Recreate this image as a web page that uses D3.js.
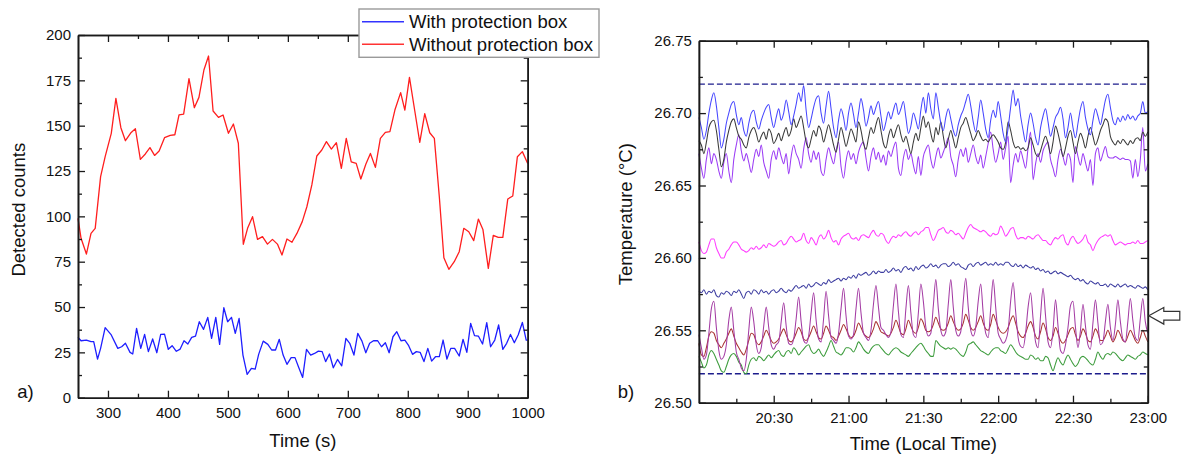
<!DOCTYPE html>
<html>
<head>
<meta charset="utf-8">
<script src="https://cdn.jsdelivr.net/npm/d3@7"></script>
<style>
  html, body { margin: 0; padding: 0; background: #fff; }
  svg { display: block; font-family: "Liberation Sans", Arial, sans-serif; }
</style>
</head>
<body>
<svg id="fig" width="1181" height="454"></svg>
<script>
// ---------------- Panel a) : detected counts vs time ----------------
const seriesNamesA = ["With protection box", "Without protection box"];

// time (s) and counts, without protection box
const timeWithout = [250.0,255.1,264.0,271.7,278.7,287.7,295.3,305.5,313.2,321.5,329.1,338.7,345.7,354.0,362.3,370.0,377.7,385.3,394.3,403.8,411.5,418.5,426.2,435.1,444.0,451.7,460.0,467.7,475.3,484.3,491.9,500.9,509.2,517.4,525.7,532.8,541.1,549.4,557.7,566.0,574.3,582.6,590.2,598.5,606.8,615.1,624.0,631.7,640.0,648.3,656.6,664.3,672.6,680.9,689.2,697.4,705.7,714.0,721.7,730.0,737.7,746.0,754.3,762.6,770.2,778.5,788.1,795.1,802.8,811.7,820.0,828.3,836.6,844.3,852.6,860.2,868.5,877.5,885.8,893.4,901.7,910.0,917.7,925.3,934.3,942.6,950.9,958.5,966.8,975.1,982.8,991.1,1000.0];
const countsWithout = [98.9,87.9,79.2,90.6,93.4,121.9,132.9,145.8,165.1,148.9,141.7,146.3,148.3,131.4,134.4,137.9,133.6,136.0,143.4,144.7,145.0,155.9,156.4,175.9,159.9,165.6,180.7,188.4,158.1,154.6,155.9,145.8,150.9,140.3,84.6,93.4,99.8,87.3,88.8,84.7,87.3,84.7,78.7,87.5,85.7,90.6,97.1,105.3,117.3,133.3,136.6,141.2,137.1,140.6,126.5,143.0,130.1,129.2,120.6,128.7,134.7,127.0,143.0,146.3,146.7,158.6,168.2,158.6,176.6,158.1,140.8,156.6,146.1,143.0,110.8,77.2,70.8,75.0,80.5,93.4,91.5,86.6,98.5,92.8,71.3,89.5,88.4,88.4,109.6,111.2,132.9,135.7,129.2];

// time (s) and counts, with protection box
const timeWith = [250.0,255.1,264.0,271.7,276.2,282.6,287.7,295.3,305.5,316.4,322.8,329.1,336.8,341.3,347.7,354.7,361.1,367.4,374.5,381.5,387.9,394.3,400.6,407.0,414.0,420.4,426.8,433.2,439.6,446.0,452.3,459.4,466.4,472.8,479.8,486.2,493.2,499.6,506.0,512.3,518.7,525.1,532.1,539.2,545.5,551.3,558.9,566.6,573.0,579.4,585.7,592.1,598.5,605.5,611.9,618.3,624.7,631.1,638.1,644.5,650.9,657.2,663.0,669.4,675.8,682.8,689.8,696.8,703.2,710.2,716.6,723.6,730.0,736.4,742.8,749.8,756.2,762.6,768.9,775.3,781.7,788.7,795.1,801.5,807.9,814.3,820.6,827.0,833.4,839.8,846.2,852.6,858.9,865.3,871.7,878.1,885.8,892.1,898.5,904.9,911.3,917.7,924.7,931.7,938.1,945.1,951.5,958.5,964.9,971.3,977.7,984.1,991.1,997.5,1000.0];
const countsWith = [33.3,31.4,31.8,30.9,30.9,21.3,27.2,38.6,34.6,27.2,28.1,30.0,25.0,24.1,38.2,27.2,34.9,25.4,32.4,24.8,34.9,35.1,26.7,28.7,25.6,26.8,31.4,29.6,33.3,34.0,41.9,37.7,44.3,32.7,44.3,29.4,49.6,41.9,44.3,35.5,43.7,23.5,12.9,16.2,15.8,23.9,31.2,29.4,26.3,26.3,32.2,23.5,18.4,22.1,22.1,16.5,11.2,26.7,23.5,24.4,25.7,25.4,19.9,24.1,16.5,21.1,17.6,32.7,30.0,23.5,35.5,31.2,24.8,30.0,31.4,31.4,28.1,30.3,24.8,33.6,36.4,31.4,31.8,28.7,23.9,25.4,25.0,19.9,27.2,20.2,22.6,22.6,31.8,21.3,27.2,27.2,23.0,32.2,25.0,41.0,34.2,34.0,29.6,41.4,28.1,31.8,40.1,26.7,30.0,34.9,30.3,34.6,41.5,31.8,31.8];

const xTicksA = [300, 400, 500, 600, 700, 800, 900, 1000];
const yTicksA = [0, 25, 50, 75, 100, 125, 150, 175, 200];

// ---------------- Panel b) : temperatures, 20:00 - 23:00 ----------------
const clockStartMin = 20 * 60;   // 20:00 local time
const sampleStepMin = 1;         // one reading per minute

const tempBlue = [26.697,26.690,26.682,26.688,26.700,26.709,26.714,26.705,26.690,26.676,26.682,26.693,26.700,26.706,26.708,26.699,26.692,26.697,26.688,26.684,26.693,26.700,26.702,26.694,26.689,26.695,26.700,26.704,26.706,26.697,26.690,26.697,26.703,26.695,26.700,26.709,26.701,26.692,26.698,26.706,26.714,26.708,26.719,26.702,26.690,26.696,26.704,26.710,26.712,26.700,26.693,26.705,26.715,26.703,26.690,26.683,26.695,26.703,26.697,26.688,26.700,26.707,26.699,26.690,26.700,26.710,26.702,26.691,26.697,26.705,26.699,26.704,26.708,26.698,26.688,26.694,26.701,26.696,26.702,26.707,26.699,26.703,26.708,26.697,26.686,26.691,26.700,26.695,26.689,26.702,26.711,26.700,26.714,26.703,26.696,26.714,26.704,26.693,26.688,26.697,26.703,26.696,26.688,26.684,26.692,26.698,26.702,26.708,26.713,26.705,26.694,26.687,26.697,26.709,26.700,26.689,26.683,26.695,26.702,26.697,26.708,26.698,26.686,26.680,26.690,26.704,26.716,26.705,26.710,26.698,26.688,26.680,26.692,26.700,26.693,26.683,26.678,26.690,26.698,26.703,26.694,26.684,26.690,26.697,26.700,26.704,26.696,26.683,26.690,26.700,26.690,26.683,26.693,26.703,26.708,26.697,26.689,26.685,26.695,26.703,26.698,26.692,26.700,26.709,26.713,26.704,26.695,26.692,26.697,26.694,26.698,26.695,26.699,26.696,26.698,26.695,26.698,26.700,26.708,26.700,26.701];
const tempBlack = [26.681,26.678,26.672,26.680,26.690,26.694,26.695,26.688,26.675,26.663,26.668,26.680,26.688,26.694,26.696,26.690,26.684,26.682,26.678,26.676,26.683,26.688,26.690,26.686,26.680,26.684,26.687,26.682,26.689,26.686,26.679,26.682,26.686,26.681,26.686,26.690,26.684,26.688,26.696,26.690,26.694,26.698,26.690,26.680,26.676,26.682,26.688,26.684,26.691,26.688,26.680,26.686,26.692,26.686,26.678,26.673,26.682,26.690,26.684,26.677,26.683,26.689,26.685,26.680,26.694,26.688,26.679,26.675,26.683,26.690,26.686,26.692,26.697,26.688,26.679,26.676,26.684,26.689,26.683,26.688,26.692,26.685,26.680,26.684,26.678,26.672,26.680,26.686,26.681,26.690,26.698,26.690,26.694,26.686,26.680,26.690,26.685,26.694,26.684,26.676,26.682,26.688,26.682,26.676,26.683,26.690,26.693,26.697,26.692,26.686,26.681,26.684,26.688,26.684,26.681,26.682,26.680,26.683,26.685,26.683,26.680,26.676,26.675,26.680,26.694,26.688,26.680,26.676,26.677,26.675,26.676,26.674,26.676,26.683,26.678,26.672,26.670,26.674,26.680,26.684,26.679,26.672,26.680,26.691,26.686,26.678,26.670,26.676,26.684,26.688,26.680,26.672,26.680,26.686,26.682,26.676,26.684,26.690,26.684,26.678,26.682,26.688,26.692,26.696,26.694,26.684,26.680,26.678,26.681,26.679,26.682,26.680,26.678,26.681,26.679,26.682,26.683,26.681,26.687,26.684,26.687];
const tempViolet = [26.672,26.662,26.655,26.668,26.676,26.665,26.672,26.668,26.660,26.655,26.666,26.672,26.660,26.652,26.668,26.678,26.685,26.674,26.667,26.672,26.666,26.659,26.668,26.675,26.670,26.678,26.666,26.660,26.655,26.668,26.674,26.668,26.676,26.670,26.665,26.672,26.658,26.670,26.678,26.672,26.668,26.662,26.675,26.683,26.672,26.666,26.674,26.668,26.673,26.660,26.657,26.668,26.676,26.670,26.665,26.674,26.680,26.663,26.655,26.667,26.674,26.668,26.672,26.665,26.673,26.678,26.680,26.669,26.660,26.670,26.676,26.668,26.673,26.666,26.671,26.664,26.674,26.670,26.676,26.680,26.662,26.657,26.669,26.675,26.668,26.672,26.664,26.658,26.670,26.657,26.670,26.675,26.678,26.668,26.662,26.670,26.676,26.669,26.673,26.678,26.683,26.670,26.664,26.656,26.668,26.675,26.670,26.676,26.666,26.672,26.678,26.670,26.665,26.671,26.662,26.670,26.679,26.687,26.675,26.666,26.672,26.680,26.668,26.676,26.684,26.652,26.664,26.672,26.666,26.674,26.668,26.662,26.676,26.687,26.654,26.665,26.672,26.666,26.674,26.678,26.680,26.668,26.662,26.656,26.668,26.675,26.670,26.664,26.672,26.668,26.652,26.677,26.670,26.664,26.672,26.666,26.660,26.668,26.650,26.672,26.676,26.667,26.672,26.677,26.670,26.669,26.669,26.670,26.669,26.668,26.669,26.668,26.668,26.667,26.655,26.668,26.656,26.668,26.690,26.660,26.665];
const tempMagenta = [26.611,26.605,26.603,26.604,26.609,26.613,26.613,26.607,26.603,26.600,26.600,26.604,26.606,26.609,26.611,26.611,26.609,26.606,26.605,26.604,26.605,26.607,26.606,26.608,26.606,26.607,26.609,26.607,26.610,26.609,26.608,26.609,26.611,26.612,26.609,26.610,26.613,26.615,26.613,26.611,26.612,26.613,26.617,26.612,26.610,26.614,26.612,26.609,26.614,26.616,26.613,26.615,26.619,26.614,26.611,26.612,26.609,26.613,26.615,26.616,26.617,26.614,26.613,26.614,26.612,26.615,26.616,26.615,26.614,26.617,26.619,26.616,26.615,26.617,26.616,26.612,26.610,26.613,26.615,26.614,26.616,26.615,26.617,26.618,26.616,26.615,26.617,26.618,26.616,26.618,26.619,26.621,26.621,26.616,26.612,26.615,26.619,26.620,26.621,26.618,26.617,26.619,26.618,26.616,26.617,26.615,26.613,26.617,26.621,26.623,26.621,26.620,26.619,26.618,26.619,26.618,26.616,26.615,26.617,26.616,26.617,26.622,26.619,26.615,26.617,26.620,26.621,26.616,26.613,26.614,26.614,26.613,26.615,26.614,26.613,26.615,26.616,26.614,26.612,26.612,26.610,26.609,26.612,26.614,26.613,26.615,26.616,26.611,26.609,26.613,26.615,26.612,26.610,26.611,26.613,26.616,26.611,26.609,26.605,26.609,26.612,26.614,26.615,26.616,26.615,26.616,26.612,26.609,26.610,26.611,26.610,26.609,26.610,26.610,26.611,26.610,26.612,26.610,26.610,26.611,26.612];
const tempNavy = [26.577,26.576,26.578,26.575,26.577,26.576,26.578,26.574,26.573,26.576,26.575,26.577,26.576,26.574,26.577,26.576,26.578,26.575,26.572,26.576,26.577,26.575,26.578,26.577,26.575,26.578,26.576,26.577,26.575,26.577,26.578,26.576,26.577,26.579,26.577,26.576,26.578,26.577,26.579,26.581,26.579,26.580,26.581,26.579,26.582,26.580,26.581,26.583,26.582,26.581,26.583,26.582,26.585,26.583,26.584,26.585,26.586,26.584,26.586,26.585,26.587,26.586,26.588,26.586,26.589,26.588,26.589,26.590,26.588,26.589,26.591,26.589,26.591,26.590,26.590,26.592,26.590,26.591,26.593,26.591,26.592,26.590,26.593,26.594,26.592,26.593,26.591,26.594,26.592,26.594,26.595,26.593,26.594,26.596,26.594,26.595,26.593,26.595,26.596,26.596,26.594,26.595,26.597,26.595,26.596,26.594,26.593,26.592,26.595,26.596,26.594,26.596,26.597,26.595,26.596,26.597,26.595,26.596,26.595,26.597,26.595,26.596,26.595,26.597,26.597,26.595,26.594,26.596,26.594,26.595,26.593,26.595,26.594,26.593,26.594,26.592,26.593,26.591,26.592,26.590,26.591,26.589,26.590,26.591,26.589,26.590,26.589,26.588,26.587,26.588,26.586,26.585,26.586,26.584,26.585,26.583,26.582,26.584,26.583,26.582,26.583,26.581,26.581,26.582,26.580,26.582,26.581,26.580,26.582,26.580,26.581,26.582,26.580,26.581,26.580,26.579,26.581,26.580,26.579,26.580,26.578];
const tempPurple = [26.547,26.538,26.530,26.533,26.548,26.565,26.570,26.552,26.536,26.530,26.532,26.540,26.557,26.566,26.550,26.535,26.530,26.524,26.522,26.530,26.550,26.566,26.556,26.540,26.534,26.538,26.553,26.566,26.552,26.540,26.537,26.540,26.542,26.556,26.569,26.553,26.541,26.540,26.544,26.558,26.573,26.556,26.543,26.541,26.546,26.562,26.576,26.557,26.544,26.542,26.558,26.577,26.560,26.545,26.543,26.541,26.548,26.565,26.579,26.560,26.546,26.544,26.547,26.565,26.579,26.562,26.548,26.545,26.543,26.550,26.568,26.581,26.566,26.552,26.550,26.547,26.545,26.549,26.567,26.582,26.563,26.547,26.545,26.565,26.581,26.562,26.547,26.545,26.562,26.582,26.570,26.552,26.546,26.548,26.567,26.585,26.565,26.550,26.546,26.549,26.568,26.585,26.566,26.550,26.546,26.549,26.570,26.586,26.566,26.550,26.546,26.552,26.570,26.582,26.562,26.548,26.545,26.565,26.585,26.566,26.548,26.544,26.541,26.543,26.550,26.570,26.583,26.563,26.545,26.539,26.538,26.548,26.566,26.576,26.558,26.542,26.538,26.560,26.579,26.560,26.542,26.538,26.550,26.571,26.553,26.536,26.534,26.540,26.552,26.567,26.570,26.552,26.538,26.550,26.568,26.553,26.540,26.537,26.555,26.571,26.555,26.540,26.542,26.556,26.568,26.552,26.543,26.554,26.571,26.556,26.544,26.542,26.556,26.572,26.557,26.545,26.543,26.558,26.572,26.556,26.548];
const tempBrown = [26.541,26.533,26.532,26.538,26.546,26.549,26.548,26.543,26.540,26.538,26.541,26.544,26.548,26.551,26.546,26.541,26.538,26.535,26.533,26.537,26.543,26.548,26.547,26.542,26.540,26.542,26.546,26.550,26.547,26.543,26.541,26.542,26.544,26.548,26.551,26.547,26.543,26.542,26.544,26.548,26.552,26.549,26.544,26.543,26.545,26.549,26.553,26.549,26.545,26.544,26.548,26.553,26.550,26.546,26.545,26.543,26.546,26.550,26.554,26.551,26.547,26.545,26.546,26.550,26.555,26.552,26.548,26.546,26.545,26.547,26.551,26.556,26.553,26.549,26.548,26.547,26.546,26.548,26.552,26.557,26.553,26.548,26.547,26.551,26.557,26.553,26.549,26.548,26.552,26.558,26.555,26.550,26.549,26.550,26.554,26.559,26.555,26.551,26.550,26.551,26.555,26.560,26.556,26.552,26.550,26.551,26.555,26.561,26.557,26.552,26.550,26.552,26.556,26.560,26.555,26.551,26.550,26.554,26.561,26.557,26.552,26.549,26.548,26.549,26.552,26.557,26.560,26.555,26.549,26.546,26.545,26.548,26.553,26.556,26.552,26.546,26.544,26.549,26.555,26.551,26.545,26.543,26.546,26.552,26.548,26.543,26.541,26.543,26.547,26.551,26.552,26.547,26.543,26.546,26.551,26.548,26.543,26.542,26.546,26.551,26.548,26.543,26.543,26.546,26.550,26.546,26.542,26.545,26.550,26.547,26.543,26.542,26.546,26.550,26.547,26.543,26.541,26.545,26.550,26.546,26.542];
const tempGreen = [26.532,26.528,26.524,26.526,26.533,26.536,26.534,26.530,26.526,26.522,26.521,26.525,26.530,26.533,26.534,26.532,26.528,26.526,26.521,26.520,26.526,26.530,26.531,26.529,26.532,26.531,26.529,26.531,26.533,26.531,26.533,26.535,26.536,26.533,26.532,26.535,26.536,26.534,26.538,26.536,26.533,26.535,26.537,26.539,26.540,26.536,26.534,26.535,26.537,26.534,26.532,26.535,26.539,26.543,26.539,26.535,26.534,26.533,26.535,26.538,26.538,26.537,26.535,26.538,26.542,26.540,26.537,26.535,26.534,26.537,26.539,26.540,26.540,26.538,26.536,26.534,26.533,26.535,26.537,26.538,26.537,26.535,26.534,26.533,26.532,26.534,26.536,26.538,26.540,26.541,26.539,26.536,26.534,26.532,26.532,26.543,26.541,26.539,26.538,26.537,26.538,26.537,26.538,26.537,26.535,26.533,26.532,26.535,26.540,26.541,26.542,26.540,26.538,26.536,26.535,26.534,26.533,26.535,26.537,26.538,26.538,26.536,26.535,26.534,26.537,26.540,26.538,26.535,26.533,26.532,26.531,26.530,26.530,26.533,26.532,26.530,26.531,26.529,26.529,26.532,26.531,26.526,26.522,26.527,26.531,26.528,26.526,26.530,26.533,26.530,26.527,26.525,26.527,26.531,26.532,26.531,26.529,26.527,26.526,26.530,26.535,26.532,26.530,26.533,26.534,26.533,26.535,26.534,26.532,26.530,26.529,26.531,26.533,26.532,26.531,26.530,26.532,26.533,26.535,26.534,26.533];

const limitLevels = [26.72, 26.52];   // dashed reference lines
const arrowLevel = 26.56;             // marker on the right edge
const xTicksB = [30, 60, 90, 120, 150, 180];   // minutes after 20:00
const yTicksB = [26.50, 26.55, 26.60, 26.65, 26.70, 26.75];

const seriesB = [
  { values: tempGreen,   color: "#3c9c3c" },
  { values: tempBrown,   color: "#a83232" },
  { values: tempPurple,  color: "#a43ca4" },
  { values: tempNavy,    color: "#3c3ca0" },
  { values: tempMagenta, color: "#ff3cff" },
  { values: tempViolet,  color: "#9b3cf5" },
  { values: tempBlack,   color: "#3a3a3a" },
  { values: tempBlue,    color: "#4646ff" }
];

// ---------------- drawing ----------------
const svg = d3.select("#fig");
svg.append("rect").attr("width", 1181).attr("height", 454).attr("fill", "#fff");

const TICK_FONT = 15, TITLE_FONT = 18.5;
const MAJOR = 7, MINOR = 4;

function frame(g, x, y, xMajor, xMinor, yMajor, yMinor, xFmt, yFmt) {
  const [x0, x1] = x.range(), [y1, y0] = y.range();
  const mk = (axis, tr) => {
    const a = g.append("g").attr("transform", tr).call(axis);
    a.select(".domain").attr("stroke", "#1a1a1a").attr("stroke-width", 1.6);
    a.selectAll(".tick line").attr("stroke", "#1a1a1a").attr("stroke-width", 1.3);
    a.selectAll("text").attr("font-size", TICK_FONT).attr("fill", "#111")
      .attr("font-family", '"Liberation Sans", Arial, sans-serif');
    return a;
  };
  // minor ticks first, then majors with labels
  mk(d3.axisBottom(x).tickValues(xMinor).tickSize(-MINOR).tickSizeOuter(0).tickFormat(""), `translate(0,${y1})`);
  mk(d3.axisBottom(x).tickValues(xMajor).tickSize(-MAJOR).tickSizeOuter(0).tickPadding(9.5).tickFormat(xFmt), `translate(0,${y1})`);
  mk(d3.axisTop(x).tickValues(xMinor).tickSize(-MINOR).tickSizeOuter(0).tickFormat(""), `translate(0,${y0})`);
  mk(d3.axisTop(x).tickValues(xMajor).tickSize(-MAJOR).tickSizeOuter(0).tickFormat(""), `translate(0,${y0})`);
  mk(d3.axisLeft(y).tickValues(yMinor).tickSize(-MINOR).tickSizeOuter(0).tickFormat(""), `translate(${x0},0)`);
  mk(d3.axisLeft(y).tickValues(yMajor).tickSize(-MAJOR).tickSizeOuter(0).tickPadding(7).tickFormat(yFmt), `translate(${x0},0)`);
  mk(d3.axisRight(y).tickValues(yMinor).tickSize(-MINOR).tickSizeOuter(0).tickFormat(""), `translate(${x1},0)`);
  mk(d3.axisRight(y).tickValues(yMajor).tickSize(-MAJOR).tickSizeOuter(0).tickFormat(""), `translate(${x1},0)`);
}

// ----- panel a -----
const gA = svg.append("g");
const xA = d3.scaleLinear().domain([250, 1000]).range([78, 527.7]);
const yA = d3.scaleLinear().domain([0, 200]).range([397.7, 35]);

const lineA = d3.line().x(d => xA(d[0])).y(d => yA(d[1]));
gA.append("path").datum(d3.zip(timeWithout, countsWithout))
  .attr("d", lineA).attr("fill", "none").attr("stroke", "#ff1e1e").attr("stroke-width", 1.3).attr("stroke-linejoin", "round");
gA.append("path").datum(d3.zip(timeWith, countsWith))
  .attr("d", lineA).attr("fill", "none").attr("stroke", "#1e1eff").attr("stroke-width", 1.3).attr("stroke-linejoin", "round");

const minorA_x = d3.range(250, 1001, 50).filter(v => !xTicksA.includes(v) && v > 250 && v < 1000);
const minorA_y = d3.range(12.5, 200, 25);
frame(gA, xA, yA, xTicksA, minorA_x, yTicksA, minorA_y, d3.format("d"), d3.format("d"));

gA.append("text").attr("x", (78 + 527.7) / 2).attr("y", 446.5).attr("text-anchor", "middle")
  .attr("font-size", TITLE_FONT).attr("fill", "#111").text("Time (s)");
gA.append("text").attr("transform", "translate(24.5,209.7) rotate(-90)").attr("text-anchor", "middle")
  .attr("font-size", TITLE_FONT).attr("fill", "#111").text("Detected counts");
gA.append("text").attr("x", 17.2).attr("y", 398).attr("font-size", TITLE_FONT).attr("fill", "#111").text("a)");

// legend
const leg = gA.append("g");
leg.append("rect").attr("x", 359).attr("y", 9).attr("width", 240).attr("height", 48.3)
  .attr("fill", "#fff").attr("stroke", "#9a9a9a").attr("stroke-width", 1.4);
const legColors = ["#3333ff", "#ff3333"];
seriesNamesA.forEach((name, i) => {
  const cy = 21.7 + i * 22.6;
  leg.append("line").attr("x1", 362).attr("x2", 404).attr("y1", cy).attr("y2", cy)
    .attr("stroke", legColors[i]).attr("stroke-width", 1.4);
  leg.append("text").attr("x", 409).attr("y", cy + 6.6).attr("font-size", TITLE_FONT)
    .attr("fill", "#111").text(name);
});

// ----- panel b -----
const gB = svg.append("g");
const xB = d3.scaleLinear().domain([0, 180]).range([698.9, 1147.8]);
const yB = d3.scaleLinear().domain([26.50, 26.75]).range([402.7, 40.7]);
const clockFmt = m => {
  const t = clockStartMin + m;
  return `${Math.floor(t / 60)}:${String(t % 60).padStart(2, "0")}`;
};

gB.selectAll("line.limit").data(limitLevels).join("line").attr("class", "limit")
  .attr("x1", xB(0)).attr("x2", xB(180)).attr("y1", d => yB(d)).attr("y2", d => yB(d))
  .attr("stroke", "#1c1c8c").attr("stroke-width", 1.3).attr("stroke-dasharray", "6,3");

// readings are joined with a monotone curve so the peaks stay rounded
const lineB = d3.line().curve(d3.curveMonotoneX)
  .x((d, i) => xB(i * sampleStepMin)).y(d => yB(d));
gB.selectAll("path.temp").data(seriesB).join("path").attr("class", "temp")
  .attr("d", d => lineB(d.values)).attr("fill", "none")
  .attr("stroke", d => d.color).attr("stroke-width", 1.05).attr("stroke-linejoin", "round");

const minorB_x = [15, 45, 75, 105, 135, 165];
const minorB_y = [26.525, 26.575, 26.625, 26.675, 26.725];
frame(gB, xB, yB, xTicksB, minorB_x, yTicksB, minorB_y, clockFmt, d3.format(".2f"));

gB.append("text").attr("x", (698.9 + 1147.8) / 2).attr("y", 450).attr("text-anchor", "middle")
  .attr("font-size", TITLE_FONT).attr("fill", "#111").text("Time (Local Time)");
gB.append("text").attr("transform", "translate(631.7,214.2) rotate(-90)").attr("text-anchor", "middle")
  .attr("font-size", TITLE_FONT).attr("fill", "#111").text("Temperature (°C)");
gB.append("text").attr("x", 617.8).attr("y", 398).attr("font-size", TITLE_FONT).attr("fill", "#111").text("b)");

// hollow arrow pointing at the plot edge
const ax = xB(180) + 1, ay = yB(arrowLevel);
gB.append("path")
  .attr("d", `M${ax},${ay} L${ax + 15},${ay - 8.4} L${ax + 15},${ay - 4.4} L${ax + 31},${ay - 4.4} L${ax + 31},${ay + 4.3} L${ax + 15},${ay + 4.3} L${ax + 15},${ay + 8.3} Z`)
  .attr("fill", "#fff").attr("stroke", "#333").attr("stroke-width", 1.2).attr("stroke-linejoin", "miter");
</script>
</body>
</html>
